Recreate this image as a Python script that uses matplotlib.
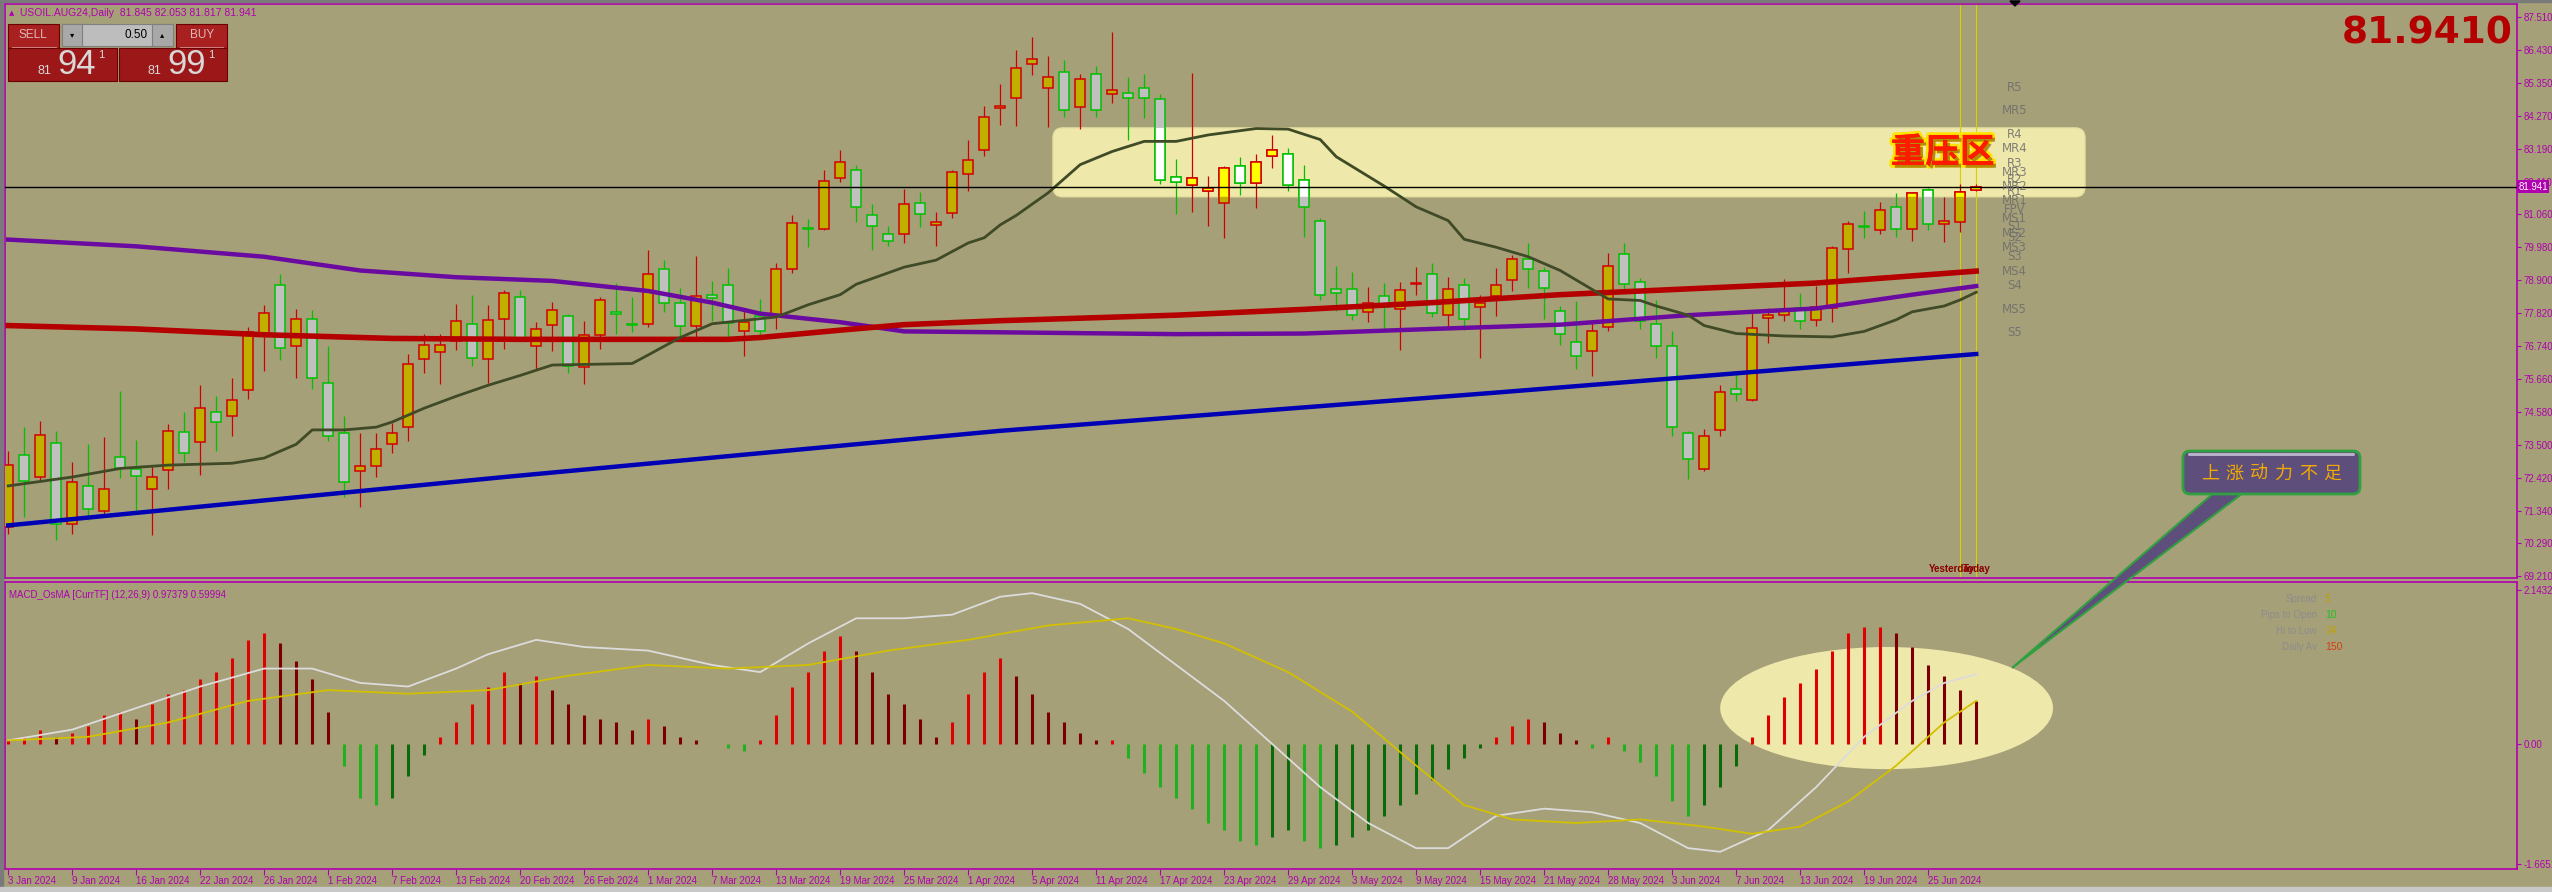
import numpy as np
import matplotlib.pyplot as plt
from matplotlib.patches import FancyBboxPatch, Rectangle, Ellipse, Polygon
import matplotlib.patheffects as pe
from matplotlib import font_manager

names = {f.name for f in font_manager.fontManager.ttflist}
narrow = 'Liberation Sans Narrow' if 'Liberation Sans Narrow' in names else 'Liberation Sans'
cjk = ['Noto Sans CJK SC', 'DejaVu Sans']

bg = '#a6a078'
mag = '#b000b0'

# ---- daily bars, 3 Jan 2024 .. 28 Jun 2024 (USOIL.AUG24) ----
opens = [70.82, 73.19, 72.46, 73.58, 70.91, 72.17, 71.35, 73.12, 72.72, 72.08,
         72.70, 73.92, 73.59, 74.60, 74.45, 75.29, 77.11, 78.73, 76.73, 77.64,
         75.53, 73.89, 72.67, 72.82, 73.53, 74.11, 76.31, 76.54, 76.90, 77.47,
         76.31, 77.61, 78.35, 76.73, 77.44, 77.71, 76.04, 77.10, 77.86, 77.47,
         77.47, 79.25, 78.16, 77.41, 78.40, 78.75, 77.22, 77.71, 77.71, 79.25,
         80.60, 80.58, 82.22, 82.51, 81.01, 80.39, 80.39, 81.43, 80.71, 81.10,
         82.35, 83.14, 84.53, 84.84, 85.97, 85.18, 85.69, 84.56, 85.62, 84.99,
         85.01, 85.16, 84.83, 82.27, 82.00, 81.82, 81.43, 82.61, 82.08, 82.96,
         83.01, 82.16, 80.84, 78.59, 78.59, 77.86, 78.39, 77.94, 78.76, 79.10,
         77.74, 78.73, 78.03, 78.37, 78.91, 79.58, 79.21, 77.89, 76.88, 76.59,
         77.35, 79.75, 78.84, 77.47, 76.73, 73.89, 72.72, 74.01, 75.35, 74.97,
         77.65, 77.77, 77.97, 77.58, 77.97, 79.92, 80.65, 80.53, 81.27, 80.56,
         81.84, 80.73, 80.81, 81.845]
highs = [73.30, 74.09, 74.29, 73.98, 72.96, 73.53, 73.77, 75.27, 73.66, 72.85,
         74.18, 74.60, 75.46, 75.10, 75.69, 77.35, 78.09, 79.10, 77.94, 77.92,
         76.73, 74.45, 73.89, 73.89, 74.22, 76.48, 77.15, 77.15, 78.11, 78.42,
         78.09, 78.57, 78.57, 77.52, 78.18, 77.78, 77.56, 78.35, 78.80, 78.35,
         79.87, 79.55, 78.65, 79.70, 78.87, 79.29, 77.94, 78.28, 79.44, 81.01,
         80.90, 82.51, 83.15, 82.67, 81.39, 80.68, 81.86, 81.77, 81.13, 82.48,
         83.46, 84.58, 85.29, 86.42, 86.83, 86.23, 86.08, 85.63, 85.89, 87.00,
         85.52, 85.63, 84.99, 82.85, 85.66, 82.29, 82.62, 82.92, 83.02, 83.64,
         83.21, 82.65, 80.93, 79.36, 79.16, 78.67, 78.80, 78.82, 79.32, 79.47,
         78.99, 78.95, 78.42, 79.29, 79.72, 80.11, 79.32, 78.05, 78.20, 77.52,
         79.77, 80.10, 78.95, 78.25, 77.22, 73.98, 74.03, 75.46, 75.87, 77.86,
         77.97, 78.93, 78.48, 78.70, 80.00, 80.82, 81.16, 81.46, 81.75, 81.77,
         81.91, 81.61, 82.03, 82.053]
lows = [70.60, 71.16, 72.29, 70.40, 70.60, 71.05, 71.21, 72.42, 71.33, 70.58,
        72.06, 72.94, 72.53, 73.30, 73.81, 75.01, 75.91, 76.28, 75.69, 75.35,
        73.64, 71.81, 71.48, 72.46, 73.24, 73.64, 75.87, 75.50, 76.62, 76.09,
        75.53, 76.66, 76.90, 75.98, 76.59, 75.87, 75.50, 76.66, 77.15, 77.19,
        77.35, 77.86, 77.07, 77.04, 77.56, 77.04, 76.43, 77.00, 77.30, 79.13,
        79.98, 80.53, 82.11, 80.79, 79.89, 80.00, 80.11, 80.62, 80.00, 80.93,
        81.82, 82.96, 83.97, 83.94, 85.60, 83.91, 84.24, 83.83, 84.22, 84.67,
        83.49, 84.20, 82.03, 81.05, 81.13, 80.68, 80.26, 81.69, 81.26, 82.56,
        81.80, 80.30, 78.25, 77.89, 77.58, 77.52, 77.30, 76.62, 78.42, 77.69,
        77.35, 77.26, 76.34, 77.71, 78.54, 78.65, 77.64, 76.79, 76.00, 75.76,
        77.22, 78.59, 77.30, 76.34, 73.81, 72.40, 72.65, 73.81, 74.93, 74.93,
        76.85, 77.56, 77.30, 77.38, 77.52, 79.13, 80.28, 80.39, 80.30, 80.19,
        80.53, 80.15, 80.48, 81.817]
closes = [72.85, 72.34, 73.84, 70.91, 72.29, 71.43, 72.08, 72.77, 72.51, 72.45,
          73.95, 73.23, 74.73, 74.25, 74.97, 77.19, 77.83, 76.68, 77.64, 75.69,
          73.81, 72.29, 72.83, 73.36, 73.89, 76.17, 76.76, 76.79, 77.55, 76.34,
          77.58, 78.46, 77.02, 77.30, 77.92, 76.09, 77.10, 78.23, 77.80, 77.44,
          79.08, 78.16, 77.41, 78.39, 78.30, 77.49, 77.52, 77.24, 79.27, 80.75,
          80.56, 82.15, 82.75, 81.27, 80.65, 80.17, 81.37, 81.05, 80.79, 82.42,
          82.81, 84.22, 84.59, 85.82, 86.11, 85.52, 84.47, 85.46, 84.45, 85.10,
          84.86, 84.84, 82.16, 82.11, 82.22, 81.90, 82.56, 82.08, 82.76, 83.14,
          82.02, 81.27, 78.41, 78.46, 77.74, 78.14, 78.03, 78.56, 78.80, 77.83,
          78.59, 77.64, 78.16, 78.73, 79.58, 79.27, 78.65, 77.15, 76.43, 77.22,
          79.36, 78.78, 77.56, 76.73, 74.09, 73.04, 73.81, 75.24, 75.19, 77.33,
          77.75, 77.92, 77.56, 78.03, 79.94, 80.73, 80.62, 81.20, 80.56, 81.75,
          80.73, 80.84, 81.77, 81.941]

# moving averages (bar index, value)
ma_olive_i = [0, 4, 7, 10, 14, 16, 18, 19, 21, 23, 24, 26, 28, 30, 32, 34, 36, 39, 40,
              42, 44, 46, 48, 50, 52, 53, 56, 58, 60, 61, 62, 63, 65, 67, 69, 71, 73,
              75, 78, 80, 82, 83, 86, 88, 90, 91, 93, 95, 97, 99, 100, 102, 103, 105,
              106, 108, 111, 114, 116, 118, 119, 121, 122, 123]
ma_olive_v = [72.17, 72.46, 72.74, 72.85, 72.91, 73.08, 73.53, 74.0, 74.0, 74.09, 74.26,
              74.71, 75.1, 75.46, 75.78, 76.12, 76.14, 76.17, 76.45, 77.02, 77.47,
              77.58, 77.69, 78.09, 78.42, 78.76, 79.32, 79.55, 80.11, 80.28, 80.7,
              81.01, 81.75, 82.67, 83.1, 83.43, 83.43, 83.64, 83.85, 83.83, 83.49,
              82.93, 81.97, 81.29, 80.84, 80.23, 79.97, 79.66, 79.21, 78.59, 78.28,
              78.23, 78.05, 77.75, 77.41, 77.15, 77.07, 77.04, 77.22, 77.6, 77.86,
              78.05, 78.25, 78.5]
ma_red_i = [0, 8, 16, 24, 32, 40, 45, 47, 52, 56, 62, 73, 81, 89, 97, 105, 113, 123]
ma_red_v = [77.41, 77.30, 77.11, 76.99, 76.96, 76.96, 76.96, 77.02, 77.26, 77.44,
            77.57, 77.75, 77.94, 78.16, 78.42, 78.61, 78.80, 79.19]
ma_purple_i = [0, 8, 16, 22, 28, 34, 40, 44, 47, 52, 56, 62, 73, 81, 89, 97, 105, 113, 119, 123]
ma_purple_v = [80.22, 80.00, 79.66, 79.21, 78.99, 78.87, 78.54, 78.16, 77.80, 77.52,
               77.22, 77.19, 77.13, 77.15, 77.30, 77.44, 77.75, 77.97, 78.42, 78.70]
ma_blue_i = [0, 31, 62, 93, 123]
ma_blue_v = [70.88, 72.46, 73.97, 75.22, 76.48]

# MACD / OsMA panel
hist = [0.05, 0.10, 0.20, 0.10, 0.15, 0.25,
        0.40, 0.45, 0.35, 0.55, 0.70, 0.75, 0.90, 1.00, 1.20, 1.45, 1.55, 1.40, 1.15, 0.90, 0.45,
        -0.30, -0.75, -0.85, -0.75, -0.45, -0.15,
        0.10, 0.30, 0.55, 0.80, 1.00, 0.85, 0.95, 0.75, 0.55, 0.40,
        0.35, 0.30, 0.20, 0.35, 0.25, 0.10, 0.05, 0.00, -0.05, -0.10, 0.05,
        0.40, 0.80, 1.00, 1.30, 1.50, 1.30, 1.00, 0.70, 0.55, 0.35, 0.10,
        0.30, 0.70, 1.00, 1.20, 0.95, 0.70, 0.45, 0.30, 0.15, 0.05, 0.05,
        -0.20, -0.40, -0.60, -0.75, -0.90, -1.10, -1.20, -1.35, -1.40, -1.30, -1.20,
        -1.35, -1.45, -1.40, -1.30, -1.20, -1.00, -0.85, -0.70, -0.50, -0.35, -0.20,
        -0.05, 0.10, 0.25, 0.35, 0.30, 0.15, 0.05, -0.05,
        0.10, -0.10, -0.25, -0.45, -0.80, -1.00, -0.85, -0.60, -0.30,
        0.10, 0.40, 0.65, 0.85, 1.05, 1.30, 1.55, 1.63, 1.63, 1.55, 1.35, 1.10, 0.95, 0.75, 0.60]
macd_i = [0, 4, 8, 12, 16, 19, 22, 25, 28, 30, 33, 36, 40, 44, 47, 50, 53, 56, 59, 62,
          64, 67, 70, 73, 76, 79, 82, 85, 88, 90, 93, 96, 99, 102, 105, 107, 110, 113,
          116, 119, 121, 123]
macd_v = [0.05, 0.2, 0.5, 0.8, 1.05, 1.05, 0.85, 0.8, 1.05, 1.25, 1.45, 1.35, 1.3, 1.1,
          1.0, 1.4, 1.75, 1.75, 1.8, 2.05, 2.1, 1.95, 1.6, 1.1, 0.6, 0.0, -0.6, -1.1,
          -1.45, -1.45, -1.0, -0.9, -0.95, -1.1, -1.45, -1.5, -1.2, -0.6, 0.1, 0.6,
          0.85, 0.97]
sig_i = [0, 5, 10, 15, 20, 25, 30, 35, 40, 45, 50, 55, 60, 65, 70, 73, 76, 80, 84, 88,
         91, 94, 98, 102, 106, 109, 112, 115, 118, 121, 123]
sig_v = [0.05, 0.1, 0.3, 0.6, 0.75, 0.7, 0.75, 0.95, 1.1, 1.05, 1.1, 1.3, 1.45, 1.65,
         1.75, 1.6, 1.4, 1.0, 0.45, -0.3, -0.85, -1.05, -1.1, -1.05, -1.15, -1.25,
         -1.15, -0.8, -0.3, 0.3, 0.6]

date_idx = list(range(0, 124, 4))
date_labels = ['3 Jan 2024', '9 Jan 2024', '16 Jan 2024', '22 Jan 2024', '26 Jan 2024',
               '1 Feb 2024', '7 Feb 2024', '13 Feb 2024', '20 Feb 2024', '26 Feb 2024',
               '1 Mar 2024', '7 Mar 2024', '13 Mar 2024', '19 Mar 2024', '25 Mar 2024',
               '1 Apr 2024', '5 Apr 2024', '11 Apr 2024', '17 Apr 2024', '23 Apr 2024',
               '29 Apr 2024', '3 May 2024', '9 May 2024', '15 May 2024', '21 May 2024',
               '28 May 2024', '3 Jun 2024', '7 Jun 2024', '13 Jun 2024', '19 Jun 2024',
               '25 Jun 2024']
price_ticks = [87.51, 86.43, 85.35, 84.27, 83.19, 82.11, 81.06, 79.98, 78.90, 77.82,
               76.74, 75.66, 74.58, 73.50, 72.42, 71.34, 70.29, 69.21]

pivot_names = ['R5', 'MR5', 'R4', 'MR4', 'R3', 'MR3', 'R2', 'MR2', 'R1', 'MR1', 'FPV',
               'MS1', 'S1', 'MS2', 'S2', 'MS3', 'S3', 'MS4', 'S4', 'MS5', 'S5']
pivot_vals = [85.18, 84.43, 83.66, 83.19, 82.71, 82.40, 82.19, 81.97, 81.80, 81.49, 81.21,
              80.90, 80.64, 80.42, 80.29, 79.95, 79.66, 79.17, 78.71, 77.95, 77.17]

zone_lo, zone_hi = 81.62, 83.87

opens, highs, lows, closes = map(np.array, (opens, highs, lows, closes))
hist = np.array(hist)
n = len(closes)
x = np.arange(n)

W, H = 2552, 892
fig = plt.figure(figsize=(W / 100, H / 100), dpi=100, facecolor=bg)


def px_axes(l, t, r, b):
    a = fig.add_axes([l / W, 1 - b / H, (r - l) / W, (b - t) / H])
    a.set_facecolor(bg)
    for s in a.spines.values():
        s.set_color(mag)
        s.set_linewidth(1.2)
    return a


ax = px_axes(5, 4, 2517, 578)
ax2 = px_axes(5, 582, 2517, 869)

xlim = (-0.2, 156.8)
ax.set_xlim(*xlim)
ax.set_ylim(69.16, 87.92)
ax2.set_xlim(*xlim)
ax2.set_ylim(-1.74, 2.255)

# resistance zone
zone = FancyBboxPatch((65.3, zone_lo), 64.5, zone_hi - zone_lo,
                      boxstyle='round,pad=0,rounding_size=0.6', mutation_aspect=0.55,
                      facecolor='#efe8ab', edgecolor='#e6dfa0', lw=1, zorder=1)
ax.add_patch(zone)

# candles
up = closes >= opens
edge = np.where(up, '#d00000', '#00c000')
body_lo = np.minimum(opens, closes)
body_h = np.maximum(np.abs(closes - opens), 0.025)
ax.vlines(x, lows, highs, colors=edge, lw=0.9, zorder=3)
ax.bar(x, body_h, 0.62, body_lo, color=np.where(up, '#bfb000', '#c0c0c0'),
       edgecolor=edge, lw=1.1, zorder=4)
lit = ax.bar(x, body_h, 0.62, body_lo, color=np.where(up, '#ffff00', '#ffffff'),
             edgecolor=edge, lw=1.1, zorder=4.1)
for b in lit:
    b.set_clip_path(zone)

# moving averages
ax.plot(ma_blue_i, ma_blue_v, color='#0000b4', lw=3.2, zorder=5)
ax.plot(ma_purple_i, ma_purple_v, color='#6a0aa0', lw=3.2, zorder=5)
ax.plot(ma_red_i, ma_red_v, color='#b40000', lw=4, zorder=5)
ax.plot(ma_olive_i, ma_olive_v, color='#3f4a26', lw=2, zorder=5)

ax.axhline(closes[-1], color='black', lw=1, zorder=6)
ax.axvline(n - 2, color='#d8d000', lw=0.8, zorder=2)
ax.axvline(n - 1, color='#d8d000', lw=0.8, zorder=2)
ax.text(n - 2 + 0.9, 69.45, 'Yesterday', color='#8a0000', fontsize=7, fontweight='bold',
        ha='right', va='center', family=narrow)
ax.text(n - 1 + 0.9, 69.45, 'Today', color='#8a0000', fontsize=7, fontweight='bold',
        ha='right', va='center', family=narrow)

for name, v in zip(pivot_names, pivot_vals):
    ax.text(125.4, v, name, color='#6c6c6c', fontsize=8.5, ha='center', va='center',
            alpha=0.85, zorder=6)

ax.text(120.9, 83.07, '重压区', color='#ff1a00', fontsize=25, fontweight='bold',
        ha='center', va='center', family=cjk, zorder=7,
        path_effects=[pe.withStroke(linewidth=4, foreground='#ffe400'),
                      pe.withSimplePatchShadow(offset=(2, -2), alpha=0.4)])

ax.set_xticks([])
ax.yaxis.tick_right()
ax.set_yticks(price_ticks, [f'{v:.3f}' for v in price_ticks])
ax.tick_params(axis='y', colors=mag, labelsize=7, length=3, pad=2, width=0.8)
for t in ax.get_yticklabels():
    t.set_family(narrow)
ax.text(1.0005, closes[-1], f'{closes[-1]:.3f}', transform=ax.get_yaxis_transform(),
        color='white', fontsize=7, va='center', ha='left', family=narrow,
        bbox=dict(boxstyle='square,pad=0.15', fc='#b000b0', ec='none'), clip_on=False)

# MACD panel
ax2.add_patch(Ellipse((117.4, 0.5), 20.8, 1.7, facecolor='#efe8ab', edgecolor='none', zorder=1))
prev = np.concatenate([[0.0], hist[:-1]])
hcol = np.where(hist >= 0, np.where(hist >= prev, '#e00000', '#7a0000'),
                np.where(hist <= prev, '#20b020', '#0a6a0a'))
ax2.vlines(x, 0, hist, colors=hcol, lw=2.2, zorder=3)
ax2.plot(macd_i, macd_v, color='#dcdcdc', lw=1.3, zorder=4)
ax2.plot(sig_i, sig_v, color='#d2c000', lw=1.3, zorder=4)
ax2.text(0.0015, 0.955, 'MACD_OsMA [CurrTF] (12,26,9) 0.97379 0.59994', color=mag,
         fontsize=7, transform=ax2.transAxes, va='center', family=narrow)

info = [('Spread', '5', '#b8a000'), ('Pips to Open', '10', '#20c020'),
        ('Hi to Low', '24', '#c0a000'), ('Daily Av', '150', '#d04010')]
for k, (lab, val, c) in enumerate(info):
    yy = 2.02 - k * 0.225
    ax2.text(144.3, yy, lab, color='#8c8c8c', fontsize=7, ha='right', va='center', family=narrow)
    ax2.text(144.8, yy, val, color=c, fontsize=7.5, ha='left', va='center', family=narrow)

ax2.yaxis.tick_right()
ax2.set_yticks([2.1432, 0, -1.6651], ['2.1432', '0.00', '-1.6651'])
ax2.tick_params(axis='y', colors=mag, labelsize=7, length=3, pad=2, width=0.8)
ax2.set_xticks(date_idx, date_labels, ha='left')
ax2.tick_params(axis='x', colors=mag, labelsize=7, length=4, pad=1, width=0.8)
for t in ax2.get_xticklabels() + ax2.get_yticklabels():
    t.set_family(narrow)

# overlay in pixel coordinates for the terminal widgets and the callout
ov = fig.add_axes([0, 0, 1, 1], zorder=10)
ov.set_xlim(0, W)
ov.set_ylim(H, 0)
ov.axis('off')
ov.patch.set_alpha(0)

ov.add_patch(Rectangle((0, 0), W, 2, color='#7a7a7a'))
ov.add_patch(Rectangle((0, 0), 3, H, color='#7a7a7a'))
ov.add_patch(Rectangle((0, 887), W, 5, color='#c8c8c8'))
ov.add_patch(Polygon([(2010, 1), (2020, 1), (2015, 6)], closed=True, color='black'))

ov.text(9, 13, '▲', color=mag, fontsize=5, va='center')
ov.text(20, 13, 'USOIL.AUG24,Daily  81.845 82.053 81.817 81.941', color=mag,
        fontsize=7.5, va='center', family=narrow)

# one-click trading panel
red = '#9c1818'
ov.add_patch(Rectangle((8, 24), 51, 24, fc='#a82020', ec='#6a0000', lw=0.8))
ov.add_patch(Rectangle((176, 24), 51, 24, fc='#a82020', ec='#6a0000', lw=0.8))
ov.add_patch(Rectangle((8, 48), 109, 33, fc=red, ec='#6a0000', lw=0.8))
ov.add_patch(Rectangle((119, 48), 108, 33, fc=red, ec='#6a0000', lw=0.8))
ov.add_patch(Rectangle((62, 24), 111, 22, fc='#bdbdbd', ec='#808080', lw=0.8))
ov.add_patch(Rectangle((62, 24), 20, 22, fc='#a8a8a8', ec='#808080', lw=0.8))
ov.add_patch(Rectangle((152, 24), 21, 22, fc='#a8a8a8', ec='#808080', lw=0.8))
ov.plot([12, 56], [47, 47], color='#d89090', lw=0.6)
ov.plot([180, 223], [47, 47], color='#d89090', lw=0.6)
ov.text(72, 35, '▾', color='black', fontsize=6, ha='center', va='center')
ov.text(162, 35, '▴', color='black', fontsize=6, ha='center', va='center')
ov.text(148, 35, '0.50', color='black', fontsize=8.5, ha='right', va='center', family=narrow)
ov.text(33, 35, 'SELL', color='#e0b8b8', fontsize=8.5, ha='center', va='center', family=narrow)
ov.text(202, 35, 'BUY', color='#e0b8b8', fontsize=8.5, ha='center', va='center', family=narrow)
for x0, big in ((38, '94'), (148, '99')):
    ov.text(x0, 71, '81', color='#d8d8d8', fontsize=9, ha='left', va='center', family=narrow)
    ov.text(x0 + 19, 65, big, color='#d8d8d8', fontsize=25, ha='left', va='center', family=narrow)
    ov.text(x0 + 60, 55, '1', color='#d8d8d8', fontsize=8, ha='left', va='center', family=narrow)

ov.text(2513, 33, '81.9410', color='#b40000', fontsize=27, fontweight='bold',
        ha='right', va='center', family='DejaVu Sans')

# callout
purple = '#5e4e7c'
ov.add_patch(Polygon([(2217, 490), (2247, 490), (2012, 668)], closed=True,
                     fc=purple, ec='#30a040', lw=1.5))
ov.add_patch(FancyBboxPatch((2183, 451), 177, 43, boxstyle='round,pad=0,rounding_size=7',
                            fc=purple, ec='#30a040', lw=2))
ov.add_patch(FancyBboxPatch((2188, 453), 167, 3, boxstyle='round,pad=0,rounding_size=1.5',
                            fc='#b8b0c8', ec='none'))
for k, ch in enumerate('上涨动力不足'):
    ov.text(2210 + k * 24.5, 474, ch, color='#f2aa00', fontsize=13, ha='center', va='center',
            family=cjk)

fig.savefig('out.png', dpi=100, facecolor=bg)
